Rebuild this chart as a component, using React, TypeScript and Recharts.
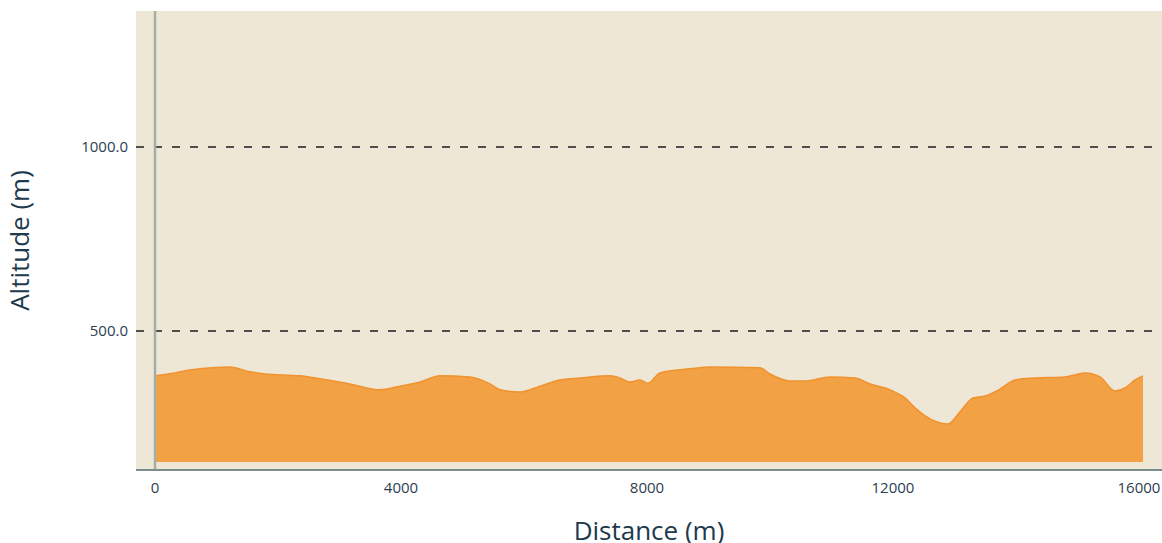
import React from 'react';
import { ComposedChart, Area, XAxis, YAxis, CartesianGrid, ReferenceLine, Label } from 'recharts';

const distances = [0, 325, 569, 976, 1220, 1545, 1789, 2358, 2683, 3171, 3659, 3984, 4309, 4634, 5122, 5447, 5610, 5935, 6260, 6585, 6911, 7398, 7561, 7724, 7886, 8016, 8211, 8699, 9024, 9837, 10000, 10325, 10569, 10976, 11382, 11626, 11951, 12195, 12358, 12602, 12894, 13089, 13301, 13496, 13740, 13984, 14309, 14797, 15122, 15366, 15610, 15772, 15935, 16065];
const altitudes = [378, 386, 394, 401, 402, 389, 383, 378, 370, 356, 340, 350, 361, 378, 375, 356, 340, 334, 350, 367, 372, 378, 372, 361, 367, 358, 386, 397, 402, 400, 383, 364, 364, 375, 372, 356, 340, 318, 291, 261, 247, 280, 318, 323, 342, 367, 372, 375, 386, 375, 337, 345, 367, 378];
const xTicks = [0, 4000, 8000, 12000, 16000];
const yTicks = [500, 1000];

const data = distances.map((d, i) => ({ d, alt: altitudes[i] }));

const titleColor = '#203a4c';
const tickColor = '#2c3e50';
const font = '"Open Sans", sans-serif';

const XTitle = (props: any) => {
  const vb = props.viewBox || {};
  return (
    <text x={vb.x + vb.width / 2} y={vb.y + 70} textAnchor="middle" fill={titleColor} fontFamily={font} fontSize={26}>
      Distance (m)
    </text>
  );
};

const YTitle = (props: any) => {
  const vb = props.viewBox || {};
  const cx = 29;
  const cy = vb.y + vb.height / 2;
  return (
    <text x={cx} y={cy} textAnchor="middle" transform={`rotate(-90, ${cx}, ${cy})`} fill={titleColor} fontFamily={font} fontSize={26}>
      Altitude (m)
    </text>
  );
};

export default function App() {
  return (
    <div style={{ position: 'absolute', left: 0, top: 0, width: 1162, height: 543, background: '#fff' }}>
      <ComposedChart width={1162} height={543} data={data} margin={{ top: 11, right: 0, bottom: 0, left: 0 }}>
        <CartesianGrid fill="#efe7d6" vertical={false} horizontal={false} />
        <XAxis
          dataKey="d"
          type="number"
          domain={[-309, 16374]}
          ticks={xTicks}
          allowDataOverflow
          height={73}
          axisLine={{ stroke: '#7a8c8e', strokeWidth: 2 }}
          tickLine={false}
          tickMargin={6}
          tick={{ fill: tickColor, fontSize: 15, fontFamily: font }}
        >
          <Label content={XTitle} />
        </XAxis>
        <YAxis
          type="number"
          domain={[122, 1370]}
          ticks={yTicks}
          allowDataOverflow
          width={136}
          axisLine={false}
          tickLine={false}
          tickSize={6}
          tickMargin={2}
          tickFormatter={(v: number) => v.toFixed(1)}
          tick={{ fill: tickColor, fontSize: 15, fontFamily: font }}
        >
          <Label content={YTitle} />
        </YAxis>
        {yTicks.map((t) => (
          <ReferenceLine key={t} y={t} stroke="#4d4d4d" strokeDasharray="8 10" strokeWidth={2} />
        ))}
        <Area
          type="monotone"
          dataKey="alt"
          baseValue={144}
          fill="#f2a145"
          fillOpacity={1}
          stroke="#f0922e"
          strokeWidth={1.5}
          isAnimationActive={false}
        />
        <ReferenceLine x={0} stroke="#a3aeab" strokeWidth={2.5} />
      </ComposedChart>
    </div>
  );
}
